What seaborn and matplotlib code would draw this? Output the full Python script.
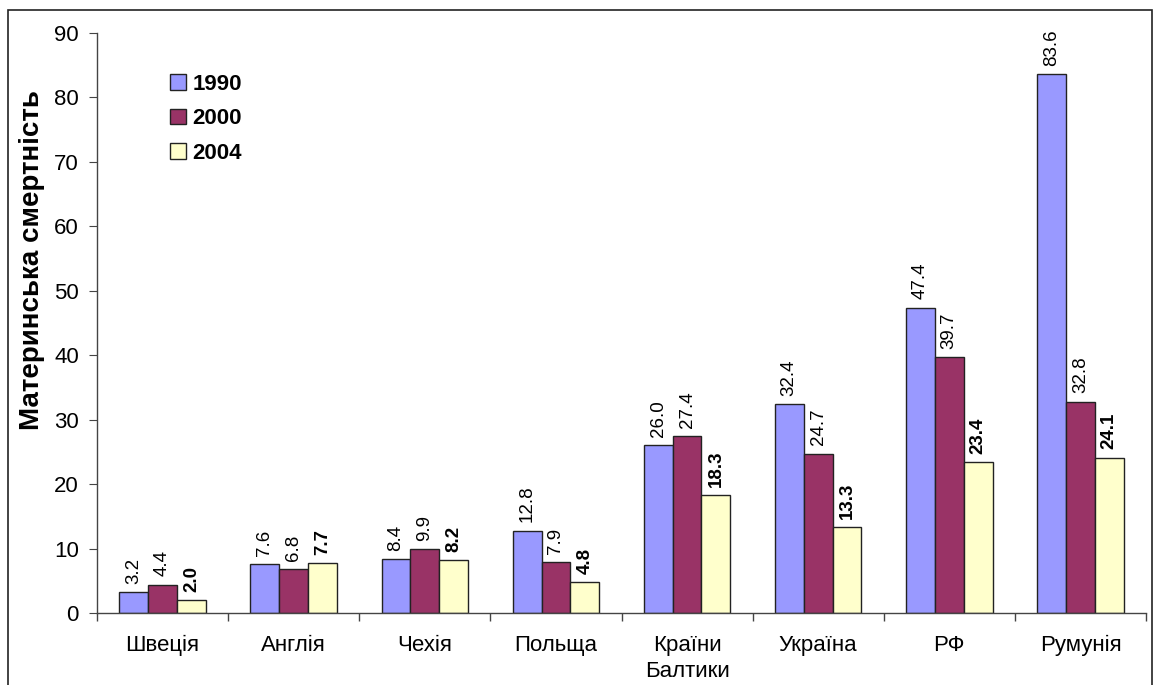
import matplotlib
matplotlib.use("Agg")
import matplotlib.pyplot as plt
import matplotlib.patches as mpatches
import seaborn as sns
import pandas as pd

# data
countries = ["Швеція", "Англія", "Чехія", "Польща", "Країни\nБалтики",
             "Україна", "РФ", "Румунія"]
years = ["1990", "2000", "2004"]
vals_1990 = [3.2, 7.6, 8.4, 12.8, 26.0, 32.4, 47.4, 83.6]
vals_2000 = [4.4, 6.8, 9.9, 7.9, 27.4, 24.7, 39.7, 32.8]
vals_2004 = [2.0, 7.7, 8.2, 4.8, 18.3, 13.3, 23.4, 24.1]
y_ticks = [0, 10, 20, 30, 40, 50, 60, 70, 80, 90]

PALETTE = {"1990": "#9999FF", "2000": "#993366", "2004": "#FFFFCC"}

df = pd.DataFrame({
    "country": countries * 3,
    "year": [y for y in years for _ in countries],
    "value": vals_1990 + vals_2000 + vals_2004,
})

sns.set_style("white")
plt.rcParams["font.family"] = ["Liberation Sans", "DejaVu Sans"]
plt.rcParams["text.color"] = "black"
plt.rcParams["axes.labelcolor"] = "black"
plt.rcParams["xtick.labelcolor"] = "black"
plt.rcParams["ytick.labelcolor"] = "black"

fig = plt.figure(figsize=(11.58, 6.85), dpi=100)
ax = fig.add_axes([97 / 1158, 1 - 613 / 685, (1146 - 97) / 1158, (613 - 33) / 685])

sns.barplot(data=df, x="country", y="value", hue="year", order=countries,
            hue_order=years, palette=PALETTE, width=0.66, edgecolor="#222222",
            linewidth=1.0, saturation=1, ax=ax)

for cont, yr in zip(ax.containers, years):
    ax.bar_label(cont, fmt="%.1f", rotation=90, padding=6, fontsize=13.5,
                 color="black", fontweight="bold" if yr == "2004" else "normal")

ax.set_ylim(0, 90)
ax.set_yticks(y_ticks)
ax.set_xlim(-0.5, len(countries) - 0.5)
ax.set_xticks(range(len(countries)))
ax.set_xticklabels(countries, fontsize=16, linespacing=1.3)
ax.set_xticks([i - 0.5 for i in range(len(countries) + 1)], minor=True)
ax.tick_params(axis="x", which="major", length=0, pad=16)
ax.tick_params(axis="x", which="minor", length=6, width=1, direction="out",
               bottom=True, color="#444444")
ax.tick_params(axis="y", labelsize=16, length=6, pad=7, direction="out",
               left=True, color="#444444")
ax.set_xlabel("")
ax.set_ylabel("Материнська смертність", fontsize=20, fontweight="bold")
ax.yaxis.set_label_coords((45 - 97) / 1049, (613 - 260) / 580)

for side in ["top", "right"]:
    ax.spines[side].set_visible(False)
for side in ["left", "bottom"]:
    ax.spines[side].set_color("#444444")
    ax.spines[side].set_linewidth(1.0)

leg = ax.legend(loc="upper left", bbox_to_anchor=(150 / 1158, 1 - 54 / 685),
                bbox_transform=fig.transFigure, frameon=False,
                prop={"weight": "bold", "size": 16}, handlelength=0.7,
                handleheight=0.7, handletextpad=0.3, labelspacing=0.6)

# outer frame around the chart area
fig.add_artist(mpatches.Rectangle((8 / 1158, -0.05), (1152 - 8) / 1158,
                                  1.05 - 10 / 685, transform=fig.transFigure,
                                  fill=False, edgecolor="#222222", linewidth=1.2))

plt.savefig("out.png", dpi=100)
